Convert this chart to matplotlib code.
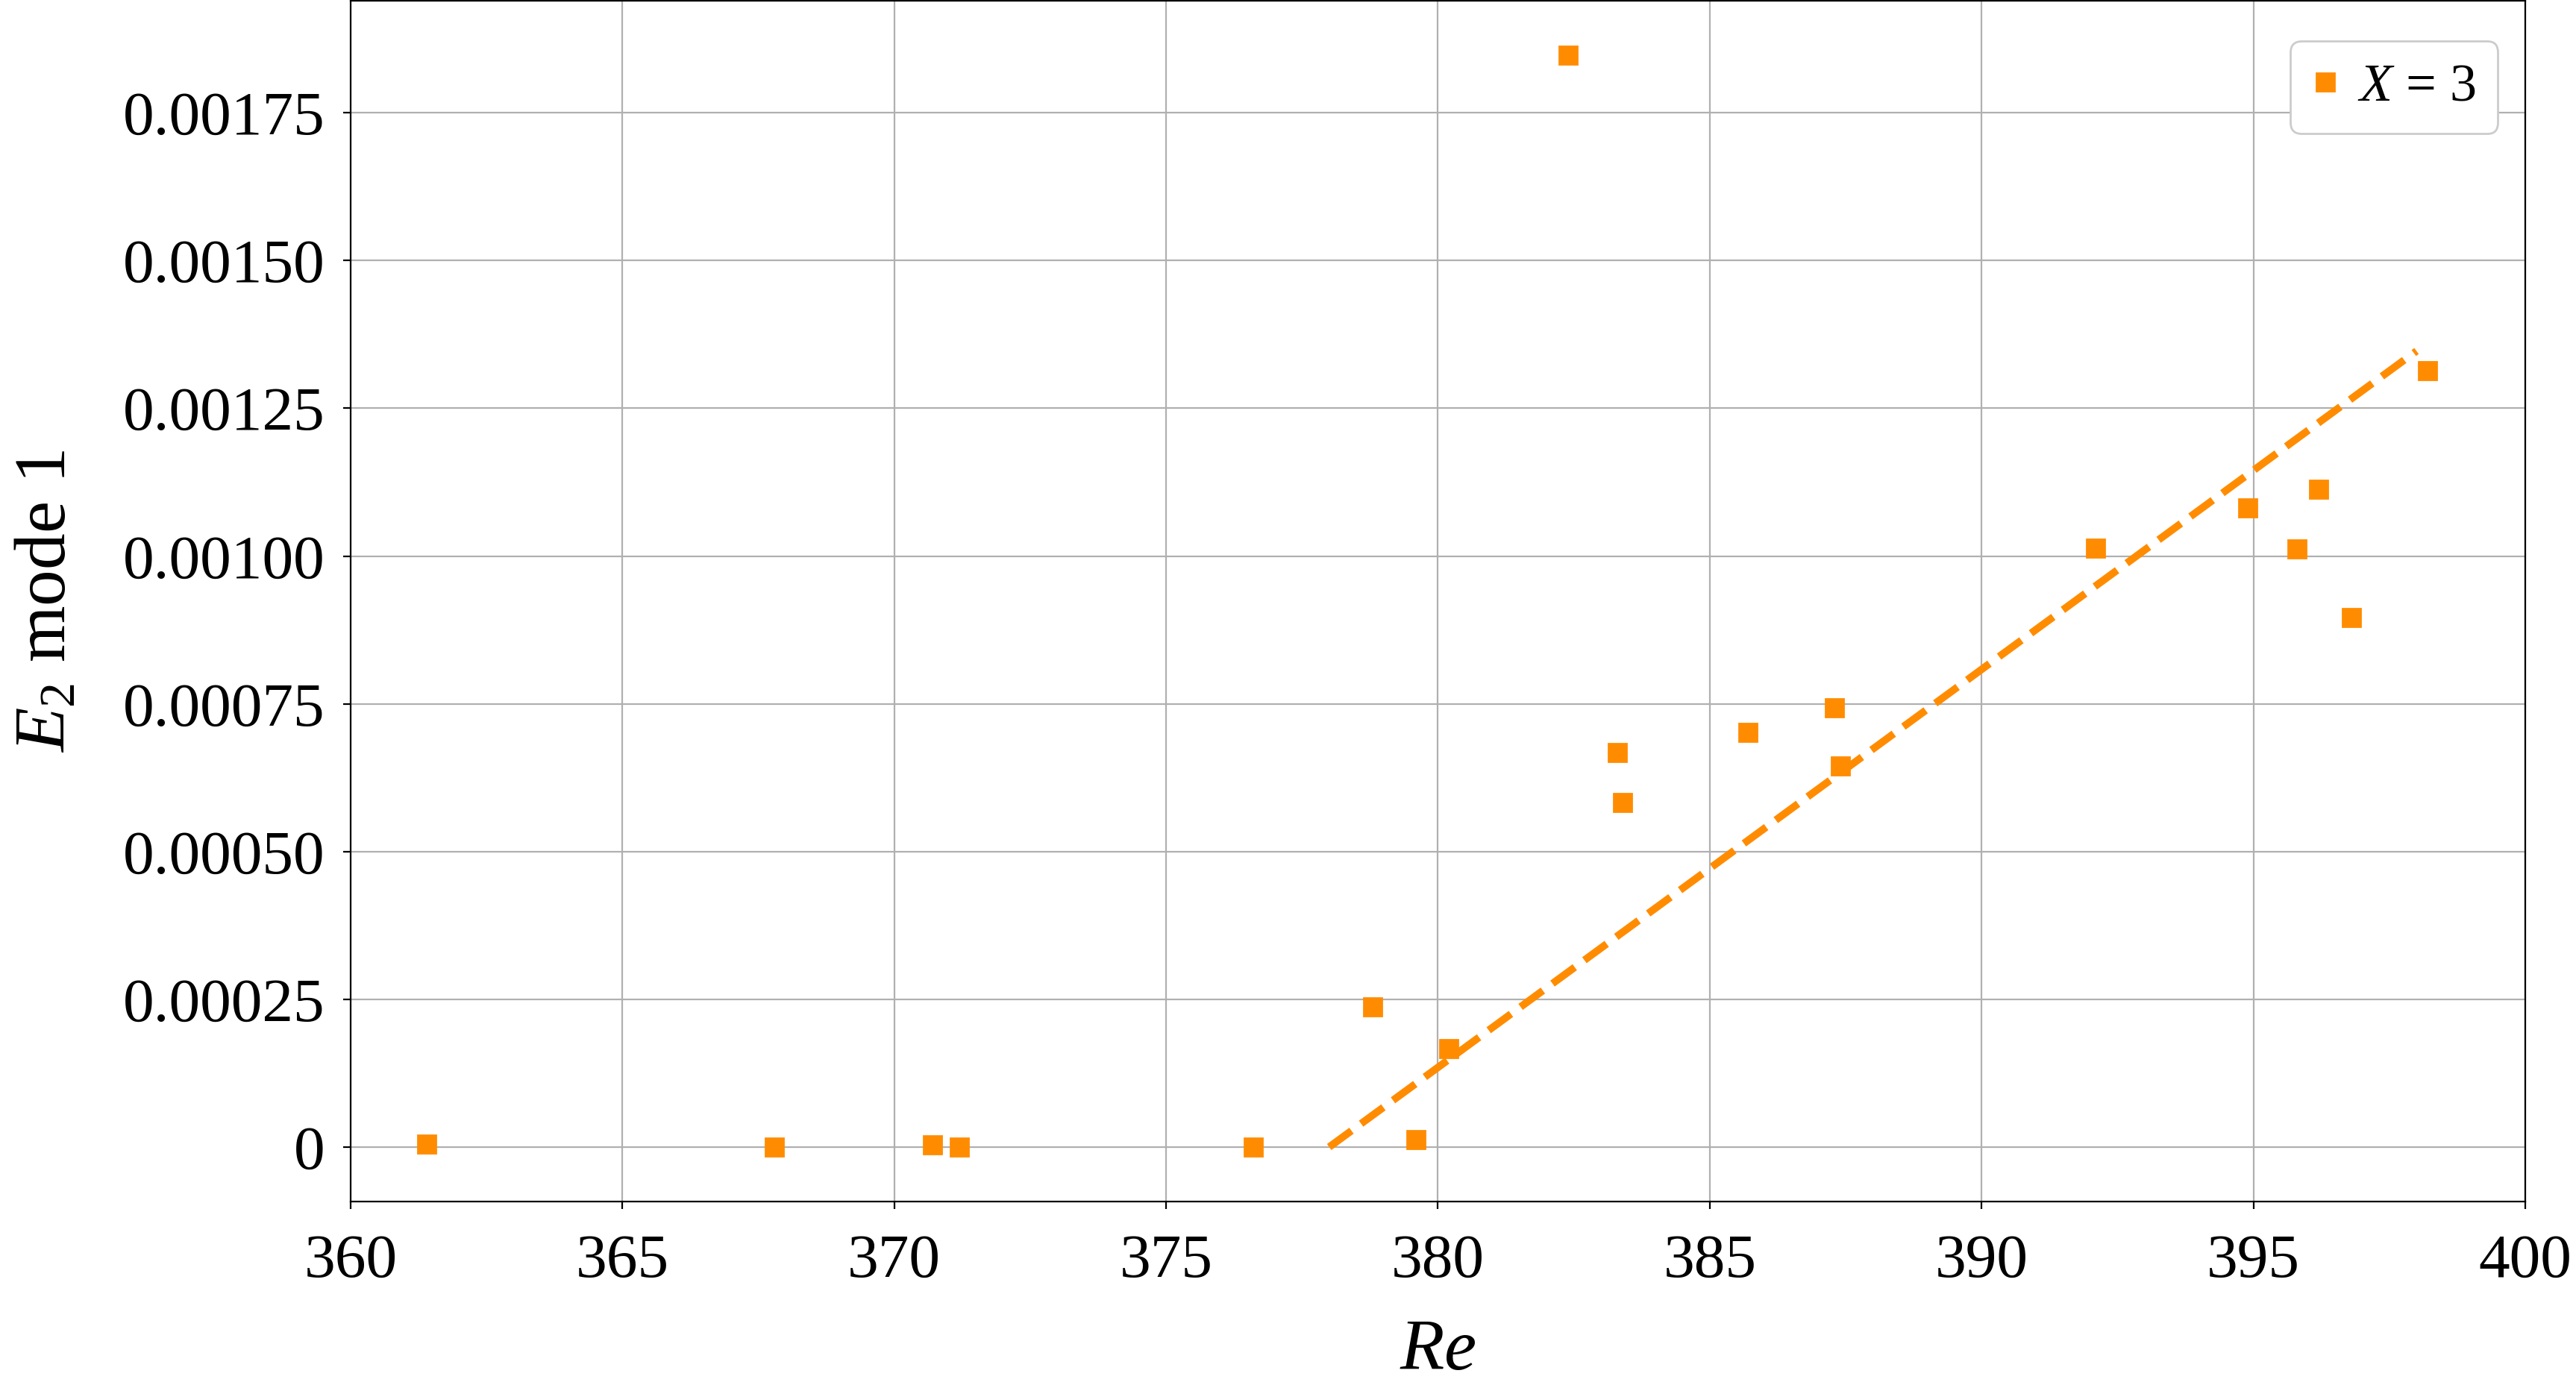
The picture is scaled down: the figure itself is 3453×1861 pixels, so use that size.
import numpy as np
import matplotlib
matplotlib.use('Agg')
import matplotlib.pyplot as plt
from matplotlib.ticker import FuncFormatter

# data
re_vals = [361.4, 367.8, 370.7, 371.2, 376.6, 378.8, 379.6, 380.2, 382.4, 383.3,
           383.4, 385.7, 387.3, 387.4, 392.1, 394.9, 395.8, 396.2, 396.8, 398.2]
e2_vals = [0.000005, 0.0, 0.000004, 0.0, 0.0, 0.000237, 0.000012, 0.000167, 0.001847, 0.000668,
           0.000583, 0.000701, 0.000743, 0.000645, 0.001013, 0.001082, 0.001012, 0.001113, 0.000896, 0.001314]
fit_re = [378.0, 398.0]
fit_e2 = [0.0, 0.001347]
yticks = [0, 0.00025, 0.0005, 0.00075, 0.001, 0.00125, 0.0015, 0.00175]
xticks = [360, 365, 370, 375, 380, 385, 390, 395, 400]

plt.rcParams['font.family'] = 'Liberation Serif'
plt.rcParams['mathtext.fontset'] = 'custom'
plt.rcParams['mathtext.rm'] = 'Liberation Serif'
plt.rcParams['mathtext.it'] = 'Liberation Serif:italic'

fig = plt.figure(figsize=(17.265, 9.305), dpi=200)
ax = fig.add_axes([0.1361, 0.1343, 0.8442, 0.8650])

orange = '#ff8c00'
ax.plot(re_vals, e2_vals, 's', color=orange, markersize=8.4, label=r'$X$ = 3', zorder=3)
ax.plot(fit_re, fit_e2, '--', color=orange, linewidth=3.6, zorder=4)

ax.set_xlim(360, 400)
ax.set_xticks(xticks)
ax.set_yticks(yticks)
ax.yaxis.set_major_formatter(FuncFormatter(lambda v, p: '0' if abs(v) < 1e-12 else f'{v:.5f}'))
ax.tick_params(labelsize=30)
ax.tick_params(axis='x', pad=12)
ax.tick_params(axis='y', pad=9)
ax.grid(True, color='#b0b0b0', linewidth=0.8)
ax.set_axisbelow(True)

ax.set_xlabel(r'$Re$', fontsize=35, labelpad=14)
ax.set_ylabel(r'$E_2$ mode 1', fontsize=35, labelpad=20)

ax.legend(loc='upper right', bbox_to_anchor=(0.9873, 0.9664), borderaxespad=0,
          fontsize=26, numpoints=1, handlelength=0.5, handletextpad=0.35,
          borderpad=0.4, framealpha=1.0)

fig.savefig('out.png', dpi=200)
